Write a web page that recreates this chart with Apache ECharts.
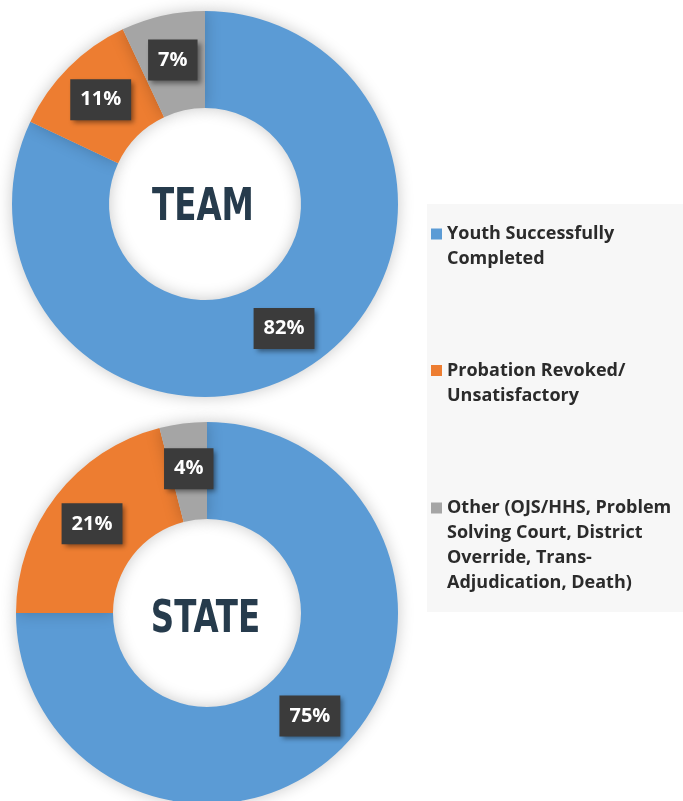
<!DOCTYPE html>
<html>
<head>
<meta charset="utf-8">
<script src="https://cdn.jsdelivr.net/npm/echarts@6/dist/echarts.min.js"></script>
<style>
html,body{margin:0;padding:0;background:#ffffff;}
#chart{width:683px;height:801px;}
</style>
</head>
<body>
<div id="chart"></div>
<script>
// ---- data ----
var categories = [
  'Youth Successfully Completed',
  'Probation Revoked/Unsatisfactory',
  'Other (OJS/HHS, Problem Solving Court, District Override, Trans-Adjudication, Death)'
];
var legendLabels = [
  'Youth Successfully\nCompleted',
  'Probation Revoked/\nUnsatisfactory',
  'Other (OJS/HHS, Problem\nSolving Court, District\nOverride, Trans-\nAdjudication, Death)'
];
var teamValues = [82, 11, 7];
var stateValues = [75, 21, 4];
var groupNames = ['TEAM', 'STATE'];
var colors = ['#5b9bd5', '#ed7d31', '#a5a5a5'];

function toData(vals) {
  return categories.map(function (c, i) { return { name: c, value: vals[i] }; });
}

var labelStyle = {
  show: true,
  position: 'inside',
  formatter: '{c}%',
  color: '#ffffff',
  fontFamily: 'Open Sans',
  fontWeight: 'bold',
  fontSize: 20,
  lineHeight: 24,
  backgroundColor: '#3b3b3b',
  padding: [9, 10, 8, 10],
  shadowColor: 'rgba(0,0,0,0.45)',
  shadowBlur: 5,
  shadowOffsetX: 3,
  shadowOffsetY: 3
};

function pieSeries(name, vals, center, radius) {
  return {
    type: 'pie',
    name: name,
    center: center,
    radius: radius,
    startAngle: 90,
    clockwise: true,
    avoidLabelOverlap: false,
    silent: true,
    data: toData(vals),
    label: labelStyle,
    labelLine: { show: false },
    itemStyle: {
      shadowColor: 'rgba(0,0,0,0.22)',
      shadowBlur: 16
    }
  };
}

// icon aligned with the first text line: prepend (n-1) blank lines so the
// block stays centred on the icon while the first real line sits on it
function legendFor(i, top) {
  return {
    data: [categories[i]],
    orient: 'vertical',
    left: 431,
    top: top,
    padding: 0,
    icon: 'rect',
    itemWidth: 11,
    itemHeight: 11,
    itemGap: 0,
    selectedMode: false,
    formatter: function (name) {
      var txt = legendLabels[categories.indexOf(name)];
      var n = txt.split('\n').length;
      return new Array(n).join('\n') + txt;
    },
    textStyle: {
      fontFamily: 'Open Sans',
      fontWeight: 'bold',
      fontSize: 18,
      lineHeight: 25,
      color: '#2b2b2b'
    }
  };
}

var centerFont = 'bold 44px "Liberation Sans Narrow", "DejaVu Sans Condensed", "Roboto Condensed", sans-serif';

var chart = echarts.init(document.getElementById('chart'), null, { renderer: 'canvas' });
chart.setOption({
  backgroundColor: '#ffffff',
  animation: false,
  color: colors,
  graphic: [
    { type: 'rect', z: 0, shape: { x: 427, y: 204, width: 256, height: 408 }, style: { fill: '#f7f7f7' } },
    { type: 'text', z: 10, x: 203, y: 208.7, scaleX: 0.82, style: { x: 0, y: 0, text: groupNames[0], align: 'center', verticalAlign: 'middle', fill: '#263b4c', font: centerFont } },
    { type: 'text', z: 10, x: 205.5, y: 620.7, scaleX: 0.82, style: { x: 0, y: 0, text: groupNames[1], align: 'center', verticalAlign: 'middle', fill: '#263b4c', font: centerFont } }
  ],
  legend: [legendFor(0, 196.5), legendFor(1, 333), legendFor(2, 420.5)],
  series: [
    pieSeries(groupNames[0], teamValues, [205, 204], [96, 193]),
    pieSeries(groupNames[1], stateValues, [207, 613], [94, 191])
  ]
});
</script>
</body>
</html>
